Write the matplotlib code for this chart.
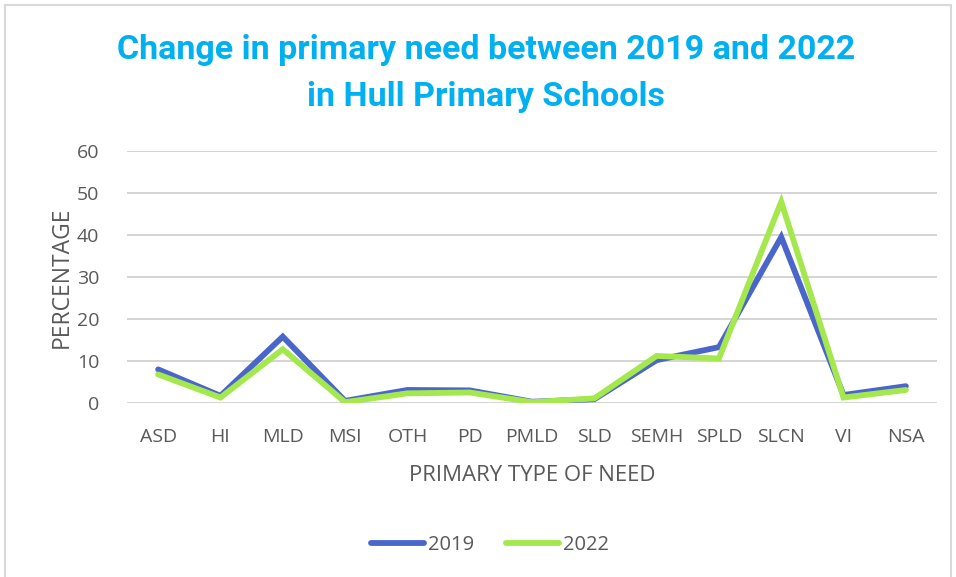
import matplotlib.pyplot as plt
from matplotlib.patches import Rectangle

# 各类需求占比（%）
needs = ['ASD', 'HI', 'MLD', 'MSI', 'OTH', 'PD', 'PMLD', 'SLD', 'SEMH', 'SPLD', 'SLCN', 'VI', 'NSA']
pct_2019 = [8.0, 1.7, 15.8, 0.5, 3.1, 3.0, 0.3, 0.9, 10.2, 13.3, 39.5, 1.9, 4.0]
pct_2022 = [6.8, 1.3, 12.8, 0.2, 2.3, 2.5, 0.2, 1.1, 11.2, 10.6, 47.9, 1.3, 3.1]
y_ticks = [0, 10, 20, 30, 40, 50, 60]

plt.rcParams['font.family'] = ['Open Sans', 'DejaVu Sans']
grey = '#595959'
title_font = ['Roboto', 'DejaVu Sans']

fig = plt.figure(figsize=(9.56, 5.77), dpi=100)
ax = fig.add_axes([127 / 956, 1 - 403 / 577, 810 / 956, 252 / 577])

x = range(len(needs))
ax.plot(x, pct_2019, color='#4A66CB', lw=4.2, solid_capstyle='round', solid_joinstyle='miter', label='2019')
ax.plot(x, pct_2022, color='#A4E84E', lw=4.2, solid_capstyle='round', solid_joinstyle='miter', label='2022')

ax.set_xlim(-0.5, len(needs) - 0.5)
ax.set_ylim(0, 60)
ax.set_yticks(y_ticks)
ax.set_xticks(list(x))
ax.set_xticklabels(needs)
ax.grid(axis='y', color='#d4d4d4', lw=1.4)
ax.set_axisbelow(True)
for s in ax.spines.values():
    s.set_visible(False)
ax.tick_params(length=0, labelsize=14, colors=grey)
ax.tick_params(axis='x', pad=18)
ax.tick_params(axis='y', pad=20)

ax.set_ylabel('PERCENTAGE', fontsize=16.5, color=grey, labelpad=2)
ax.set_xlabel('PRIMARY TYPE OF NEED', fontsize=16, color=grey, labelpad=14)

fig.text(0.508, 1 - 50 / 577, 'Change in primary need between 2019 and 2022',
         ha='center', va='center', fontsize=24.5, fontweight='bold', color='#00B0F0', family=title_font)
fig.text(0.508, 1 - 97 / 577, 'in Hull Primary Schools',
         ha='center', va='center', fontsize=24.5, fontweight='bold', color='#00B0F0', family=title_font)

fig.legend(loc='center', bbox_to_anchor=(490 / 956, 1 - 545 / 577), ncol=2, frameon=False,
           fontsize=14.5, labelcolor=grey, handlelength=2.6, handletextpad=0.2, columnspacing=1.6)

# 外框
fig.patches.append(Rectangle((5 / 956, -0.01), 0.99, 1 - 5 / 577 + 0.01, transform=fig.transFigure,
                             fill=False, edgecolor='#d9d9d9', lw=1.5))

fig.savefig('out.png', dpi=100)
